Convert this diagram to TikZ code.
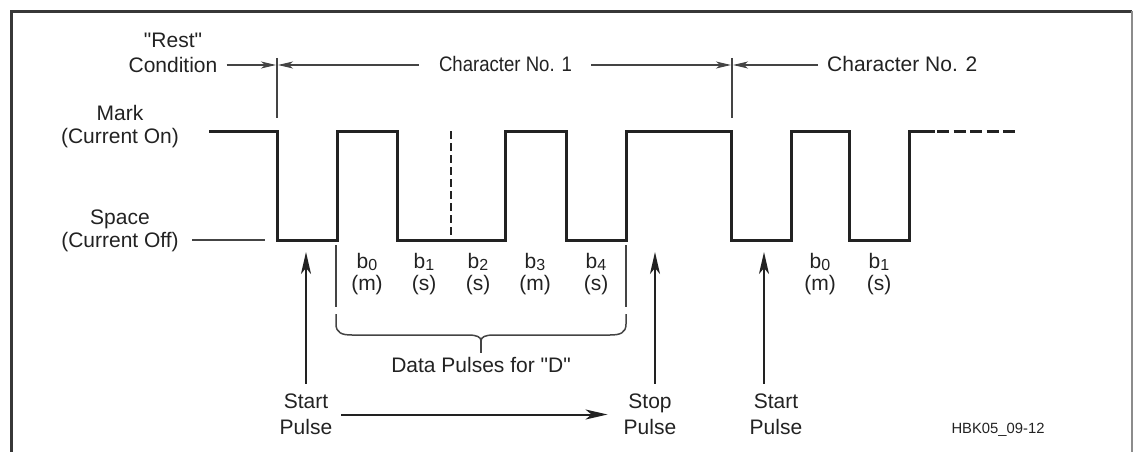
\documentclass[tikz,border=0pt]{standalone}
\usepackage{fontspec}
\setmainfont{Liberation Sans}[Ligatures=TeXOff]
\usetikzlibrary{arrows.meta,calc}
\definecolor{ink}{HTML}{222222}
\definecolor{rule}{HTML}{444444}
\newcommand{\bitsub}[1]{b\raisebox{-2pt}{\fontsize{16}{16}\selectfont #1}}
\begin{document}
\begin{tikzpicture}[x=1pt,y=-1pt,
  lbl/.style={font=\fontsize{21}{25}\selectfont, text=ink, inner sep=0pt, align=center},
  small/.style={font=\fontsize{14.8}{17}\selectfont, text=ink, inner sep=0pt},
  wave/.style={line width=3pt, ink, line join=miter, line cap=butt},
  guide/.style={line width=1.5pt, rule},
  dimarrow/.style={guide, -{Stealth[length=15pt,width=7pt,inset=4pt]}},
  bigarrow/.style={line width=2pt, ink, -{Stealth[length=22pt,width=10pt,inset=6pt]}},
]
\useasboundingbox (0,0) rectangle (1133,452);

% outer frame (open at the bottom)
\draw[line width=3pt, ink!90] (11.5,452) -- (11.5,11.5) -- (1132,11.5);
\draw[line width=2pt, black!45] (1132,11.5) -- (1132,452);

% level labels
\node[lbl, font=\fontsize{21}{23}\selectfont] (mark) at (120,126.2) {Mark\\(Current On)};
\node[lbl, font=\fontsize{21}{23}\selectfont] (space) at (120,231.2) {Space\\(Current Off)};
\draw[guide] (192,240) -- (265,240);

% the teleprinter waveform
\draw[wave] (209,131) -- (277,131) -- (277,240) -- (337,240) -- (337,131)
  -- (397,131) -- (397,240) -- (505,240) -- (505,131) -- (566,131)
  -- (566,240) -- (626,240) -- (626,131) -- (731,131) -- (731,240)
  -- (791,240) -- (791,131) -- (849,131) -- (849,240) -- (909,240)
  -- (909,131) -- (935,131);
\draw[wave, dash pattern=on 12pt off 4.5pt] (937,131) -- (1015,131);
\draw[line width=2.6pt, ink, dash pattern=on 8pt off 4pt] (451,131) -- (451,240);

% character boundaries
\coordinate (t1) at (277,65);
\coordinate (t2) at (732,65);
\draw[guide] (277,58) -- (277,118);
\draw[guide] (732,58) -- (732,118);

\node[lbl] (rest) at (173,53) {"Rest"\\Condition};
\node[lbl, anchor=base] (ch1) at (505.5,72) {\scalebox{0.885}[1]{Character No. 1}};
\node[lbl, anchor=base west] (ch2) at (827,72) {Character No. 2};

\draw[dimarrow] ($(rest.east |- t1)+(9,0)$) -- ($(t1)+(-1,0)$);
\draw[dimarrow] ($(ch1.west |- t1)+(-20,0)$) -- ($(t1)+(1,0)$);
\draw[dimarrow] ($(ch1.east |- t1)+(19,0)$) -- ($(t2)+(-1,0)$);
\draw[dimarrow] ($(ch2.west |- t2)+(-9,0)$) -- ($(t2)+(1,0)$);

% bit labels, character 1
\foreach \x/\n/\v in {367/0/m, 424/1/s, 478/2/s, 535/3/m, 596/4/s}{
  \node[lbl, anchor=base] (bit\n) at (\x,268) {\bitsub{\n}};
  \node[lbl, anchor=base] (val\n) at (\x,290) {(\v)};
}
% bit labels, character 2
\node[lbl, anchor=base] (cbit0) at (820,268) {\bitsub{0}};
\node[lbl, anchor=base] (cval0) at (820,290) {(m)};
\node[lbl, anchor=base] (cbit1) at (879,268) {\bitsub{1}};
\node[lbl, anchor=base] (cval1) at (879,290) {(s)};

% data bracket
\draw[guide] (336,245) -- (336,307);
\draw[guide] (626,245) -- (626,307);
\draw[guide, line join=round]
  (336,314) -- (336,324) .. controls (336,333) and (342,335) .. (352,335)
  -- (468,335) .. controls (477,335) and (481,337) .. (481,341)
  .. controls (481,337) and (485,335) .. (494,335)
  -- (610,335) .. controls (620,335) and (626,333) .. (626,324) -- (626,314);
\draw[line width=2pt, rule] (481,340) -- (481,353);
\node[lbl, anchor=base] (data) at (481,372) {Data Pulses for "D"};

% start / stop pulse pointers
\coordinate (a1) at (306,252);
\coordinate (a2) at (655,252);
\coordinate (a3) at (764,252);
\node[lbl, font=\fontsize{21}{26}\selectfont] (start1) at (306,414.5) {Start\\Pulse};
\node[lbl, font=\fontsize{21}{26}\selectfont] (stop) at (650,414.5) {Stop\\Pulse};
\node[lbl, font=\fontsize{21}{26}\selectfont] (start2) at (776,414.5) {Start\\Pulse};

\draw[bigarrow] ($(a1 |- start1.north)+(0,-10)$) -- (a1);
\draw[bigarrow] ($(a2 |- stop.north)+(0,-10)$) -- (a2);
\draw[bigarrow] ($(a3 |- start2.north)+(0,-10)$) -- (a3);
\draw[bigarrow] ($(start1.east)+(9,0)$) -- ($(stop.west)+(-16,0)$);

\node[small, anchor=base] (fig) at (998,433) {HBK05\_09-12};
\end{tikzpicture}
\end{document}
